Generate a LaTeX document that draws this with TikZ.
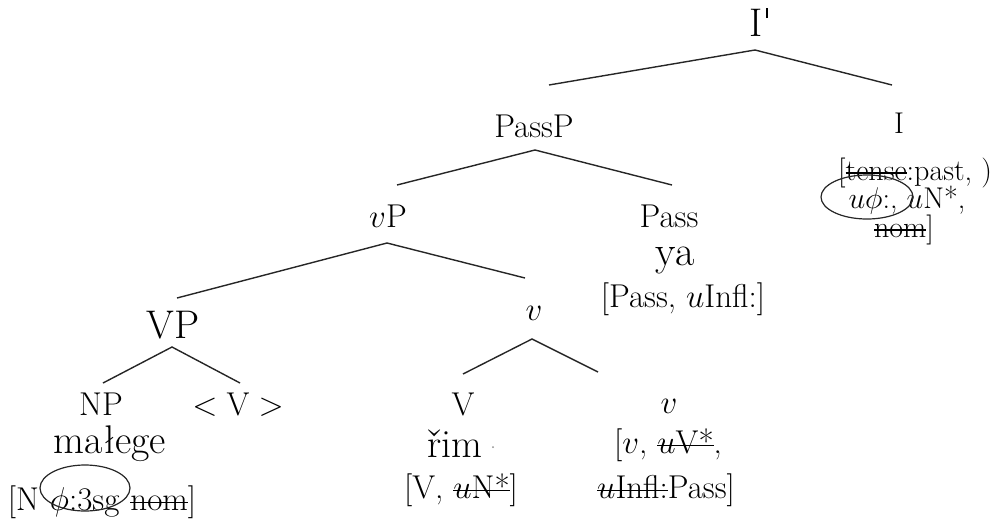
\documentclass[tikz,border=0pt]{standalone}
\usepackage{fix-cm}
\usepackage{fontspec}
\newlength\strkw
\newcommand\strk[1]{\settowidth{\strkw}{#1}\rlap{\rule[0.21em]{\strkw}{1.5pt}}#1}
\newcommand\tick{\hspace{0.07em}\rule[0.45em]{0.06em}{0.24em}}
\begin{document}
\begin{tikzpicture}[x=1pt,y=-1pt,
  lbl/.style={inner sep=0pt, anchor=base, font=\fontsize{33}{38}\selectfont},
  feat/.style={inner sep=0pt, anchor=base, font=\fontsize{30}{34}\selectfont},
  lex/.style={inner sep=0pt, anchor=base, font=\fontsize{40}{46}\selectfont},
  branch/.style={line width=1.4pt, black!85},
  circ/.style={line width=1.2pt, black!85}]
\useasboundingbox (0,0) rectangle (1004,520);

% ---- labels ----
\node[lex] (Ibar) at (759,36) {I\tick};
\node[lbl] (PassP) at (534,137) {PassP};
\node[feat] (I) at (899,133) {I};
\node[feat] (I1) at (915,180) {[\strk{tense}:past, )};
\node[feat] (I2) at (907,208) {$u\phi$:, $u$N*,};
\node[feat] (I3) at (904,237) {\strk{nom}]};

\node[lbl] (vP) at (388,227) {$v$P};
\node[lbl] (Pass) at (669,227) {Pass};
\node[lex, font=\fontsize{42}{48}\selectfont] (ya) at (675,265) {ya};
\node[lbl] (Pass2) at (683,307) {[Pass, $u$Infl:]};

\node[lex, font=\fontsize{40}{46}\selectfont] (VP) at (173,338) {VP};
\node[lbl] (v) at (534,320) {$v$};

\node[lbl] (NP) at (101,415) {NP};
\node[lbl] (tV) at (238,415) {$<\mathrm{V}>$};
\node[lex] (malege) at (110,453) {małege};
\node[lbl] (NPf) at (102,510) {[N\hspace{0.333em}$\phi$:3sg\hspace{0.333em}\strk{nom}]};

\node[lbl] (V) at (463,415) {V};
\node[lex] (rim) at (455,457) {řim};
\node[lbl] (Vf) at (461,498) {[V, \strk{$u$N*}]};

\node[lbl] (vh) at (669,413) {$v$};
\node[lbl] (vf1) at (668,453) {[$v$, \strk{$u$V*},};
\node[lbl] (vf2) at (666,498) {\strk{$u$Infl:}Pass]};

\fill[black!45] (493,447) circle (1pt);

% ---- branches ----
\coordinate (a1) at (755,50);  \coordinate (l1) at (549,85);  \coordinate (r1) at (892,85);
\coordinate (a2) at (535,150); \coordinate (l2) at (397,185); \coordinate (r2) at (672,185);
\coordinate (a3) at (387,243); \coordinate (l3) at (177,298); \coordinate (r3) at (525,278);
\coordinate (a4) at (172,347); \coordinate (l4) at (103,383); \coordinate (r4) at (240,383);
\coordinate (a5) at (532,339); \coordinate (l5) at (463,374); \coordinate (r5) at (598,372);
\draw[branch] (l1) -- (a1) -- (r1);
\draw[branch] (l2) -- (a2) -- (r2);
\draw[branch] (l3) -- (a3) -- (r3);
\draw[branch] (l4) -- (a4) -- (r4);
\draw[branch] (l5) -- (a5) -- (r5);

% ---- circled features ----
\coordinate (e1) at (85,488);
\coordinate (e2) at (867,197);
\draw[circ] (e1) ellipse [x radius=45, y radius=23];
\draw[circ] (e2) ellipse [x radius=46, y radius=22];
\end{tikzpicture}
\end{document}
